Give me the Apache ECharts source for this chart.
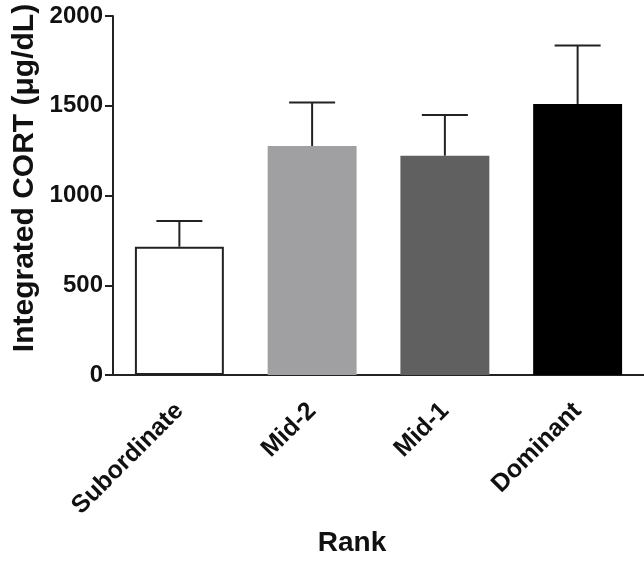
<!DOCTYPE html>
<html><head><meta charset="utf-8">
<script src="https://cdn.jsdelivr.net/npm/echarts@6/dist/echarts.min.js"></script>
<style>html,body{margin:0;padding:0;background:#fff}#c{width:644px;height:561px}</style>
</head><body><div id="c"></div>
<script>
const categories = ['Subordinate', 'Mid-2', 'Mid-1', 'Dominant'];
const means = [715, 1276, 1222, 1510];
const upper = [858, 1518, 1448, 1835];
const colors = ['#ffffff', '#a0a0a2', '#606060', '#000000'];
const yTicks = [0, 500, 1000, 1500, 2000];

const chart = echarts.init(document.getElementById('c'));
const font = 'Liberation Sans, Arial, sans-serif';
chart.setOption({
  animation: false,
  grid: { left: 113, top: 16, width: 534, bottom: 186, containLabel: false },
  xAxis: {
    type: 'category', data: categories,
    axisLine: { lineStyle: { color: '#222', width: 2 } },
    axisTick: { alignWithLabel: true, length: 9, lineStyle: { color: '#222', width: 2 } },
    axisLabel: { rotate: 45, fontFamily: font, fontWeight: 'bold', fontSize: 25, color: '#111', margin: 32 }
  },
  yAxis: {
    type: 'value', min: 0, max: 2000, interval: 500,
    axisLine: { show: true, lineStyle: { color: '#222', width: 2 } },
    axisTick: { show: true, length: 8, lineStyle: { color: '#222', width: 2 } },
    axisLabel: { fontFamily: font, fontWeight: 'bold', fontSize: 24, color: '#111', margin: 10,
      formatter: v => yTicks.includes(v) ? String(v) : '' },
    splitLine: { show: false }
  },
  graphic: [
    { type: 'text', x: 352, y: 543, style: { text: 'Rank', font: 'bold 28px Liberation Sans, Arial, sans-serif', fill: '#111', align: 'center', verticalAlign: 'middle' } },
    { type: 'text', x: 25, y: 178, rotation: Math.PI / 2, style: { text: 'Integrated CORT (\u03bcg/dL)', font: 'bold 30px Liberation Sans, Arial, sans-serif', fill: '#111', align: 'center', verticalAlign: 'middle' } }
  ],
  series: [
    {
      type: 'bar', barWidth: '67%',
      data: means.map((v, i) => ({ value: v, itemStyle: { color: colors[i], borderColor: '#222', borderWidth: i === 0 ? 2 : 0 } })),
      z: 2
    },
    {
      type: 'custom', z: 3,
      data: means.map((v, i) => [i, v, upper[i]]),
      renderItem: (params, api) => {
        const base = api.coord([api.value(0), api.value(1)]);
        const top = api.coord([api.value(0), api.value(2)]);
        const hw = 23;
        const st = { stroke: '#222', lineWidth: 2 };
        return { type: 'group', children: [
          { type: 'line', shape: { x1: base[0], y1: base[1], x2: top[0], y2: top[1] }, style: st },
          { type: 'line', shape: { x1: top[0] - hw, y1: top[1], x2: top[0] + hw, y2: top[1] }, style: st }
        ] };
      }
    }
  ]
});
</script></body></html>
